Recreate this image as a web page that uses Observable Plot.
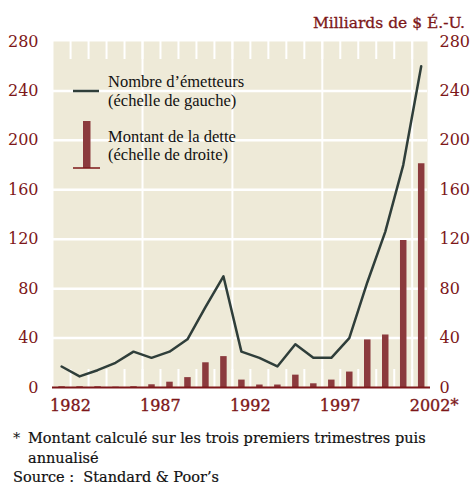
<!DOCTYPE html>
<html>
<head>
<meta charset="utf-8">
<script src="https://cdn.jsdelivr.net/npm/d3@7"></script>
<script src="https://cdn.jsdelivr.net/npm/@observablehq/plot@0.6"></script>
<style>
  html, body { margin: 0; padding: 0; background: #ffffff; }
  #wrap { position: relative; width: 472px; height: 487px; overflow: hidden; }
  #chart { position: absolute; left: 0; top: 0; }
  #overlay { position: absolute; left: 0; top: 0; pointer-events: none; }
  #overlay text.lib { font-family: "Liberation Serif", serif; }
  #overlay text.dv { font-family: "DejaVu Serif", serif; }
  #chart svg text { font-family: "DejaVu Serif", serif; }
</style>
</head>
<body>
<div id="wrap">
  <div id="chart"></div>
  <svg id="overlay" width="472" height="487" xmlns="http://www.w3.org/2000/svg">
    <text class="dv" x="465" y="28" text-anchor="end" fill="#7D1719" stroke="#7D1719" stroke-width="0.3" font-size="15.5">Milliards de $ É.-U.</text>
    <!-- legend -->
    <line x1="73" x2="99" y1="91" y2="91" stroke="#2F3E3A" stroke-width="2.5"/>
    <text class="lib" x="108" y="87" fill="#111" font-size="16.5">Nombre d’émetteurs</text>
    <text class="lib" x="108" y="106" fill="#111" font-size="16.5">(échelle de gauche)</text>
    <rect x="83" y="121" width="7.5" height="47" fill="#8B3A3D"/>
    <line x1="73" x2="100" y1="168" y2="168" stroke="#7D1719" stroke-width="1.5"/>
    <text class="lib" x="108" y="142" fill="#111" font-size="16.5">Montant de la dette</text>
    <text class="lib" x="108" y="160" fill="#111" font-size="16.5">(échelle de droite)</text>
    <!-- footnote -->
    <text class="dv" x="13" y="443" fill="#111" font-size="14.5">*</text>
    <text class="dv" x="28" y="443" fill="#111" stroke="#111" stroke-width="0.2" font-size="14.5">Montant calculé sur les trois premiers trimestres puis</text>
    <text class="dv" x="28" y="463" fill="#111" stroke="#111" stroke-width="0.2" font-size="14.5">annualisé</text>
    <text class="dv" x="13" y="482" fill="#111" stroke="#111" stroke-width="0.2" font-size="14.5" xml:space="preserve">Source :  Standard &amp; Poor’s</text>
  </svg>
</div>
<script>
const years   = [1982, 1983, 1984, 1985, 1986, 1987, 1988, 1989, 1990, 1991, 1992,
                 1993, 1994, 1995, 1996, 1997, 1998, 1999, 2000, 2001, 2002];
const issuers = [17, 9, 14, 20, 29, 24, 29, 39, 65, 90, 29,
                 24, 17, 35, 24, 24, 40, 85, 126, 180, 260];
const debt    = [0.6, 0.6, 0.6, 0.3, 0.6, 2.2, 4.3, 8, 20, 25, 6,
                 2, 2, 10, 3, 6, 12.5, 38.5, 42.5, 119, 181];
const yTicks  = [0, 40, 80, 120, 160, 200, 240, 280];
const xLabelYears = [1982, 1987, 1992, 1997, 2002];
const xLabelText  = ["1982", "1987", "1992", "1997", "2002*"];
const gridYears   = [1986.5, 1991.5, 1996.5, 2001.5];
const boundaries  = years.slice(0, -1).map(y => y + 0.5);

const table = years.map((year, i) => ({year, issuers: issuers[i], debt: debt[i]}));
const xLabels = xLabelYears.map((year, i) => ({year, label: xLabelText[i]}));

const red = "#7D1719";
const serif = "DejaVu Serif";
const labelStyle = {fill: red, stroke: red, strokeWidth: 0.35, fontFamily: serif, fontSize: 16};

const chart = Plot.plot({
  width: 472,
  height: 420,
  marginTop: 41,
  marginBottom: 33,
  marginLeft: 53,
  marginRight: 45,
  x: {domain: [1981.55, 2002.35], axis: null},
  y: {domain: [0, 280], axis: null},
  style: {fontFamily: "'DejaVu Serif', serif", fontSize: "16px", background: "transparent", color: red},
  marks: [
    Plot.frame({fill: "#EEEAD8", stroke: null}),
    Plot.gridY(yTicks.filter(v => v > 0 && v < 280), {stroke: "white", strokeOpacity: 1, strokeWidth: 2.5}),
    Plot.gridX(gridYears, {stroke: "white", strokeOpacity: 1, strokeWidth: 2}),
    Plot.ruleX(boundaries, {stroke: "white", strokeWidth: 2, insetBottom: 328}),
    Plot.ruleX(boundaries, {stroke: "white", strokeWidth: 2, insetTop: 328}),
    Plot.ruleX(table, {x: "year", y1: d => 0, y2: "debt", stroke: "#8B3A3D", strokeWidth: 6.5}),
    Plot.line(table, {x: "year", y: "issuers", stroke: "#2F3E3A", strokeWidth: 2.5}),
    Plot.ruleY([0], {stroke: red, strokeWidth: 2, insetLeft: -1, insetRight: -3}),
    Plot.axisY(yTicks, {anchor: "left", tickSize: 0, tickPadding: 15, label: null, ...labelStyle}),
    Plot.axisY(yTicks, {anchor: "right", tickSize: 0, tickPadding: 12, label: null, ...labelStyle}),
    Plot.text(xLabels, {x: "year", text: "label", frameAnchor: "bottom", lineAnchor: "top",
                        textAnchor: "start", dx: -11.5, dy: 12, ...labelStyle})
  ]
});
document.getElementById("chart").appendChild(chart);
</script>
</body>
</html>
